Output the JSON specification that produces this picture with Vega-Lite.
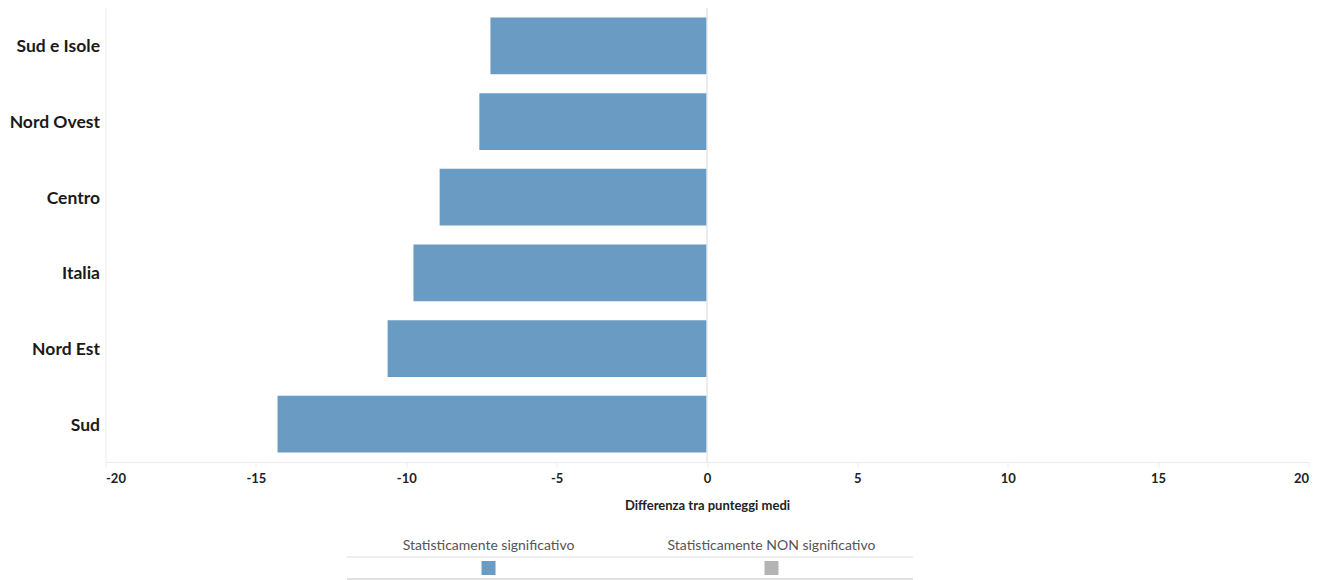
{
  "$schema": "https://vega.github.io/schema/vega-lite/v6.json",
  "background": "white",
  "padding": {"left": 8.5, "top": 7, "right": 5, "bottom": 0},
  "config": {"view": {"stroke": null}, "font": "Lato"},
  "datasets": {
    "main": [
      {"regione": "Sud e Isole", "differenza": -7.20, "significativita": "Statisticamente significativo"},
      {"regione": "Nord Ovest", "differenza": -7.57, "significativita": "Statisticamente significativo"},
      {"regione": "Centro", "differenza": -8.89, "significativita": "Statisticamente significativo"},
      {"regione": "Italia", "differenza": -9.76, "significativita": "Statisticamente significativo"},
      {"regione": "Nord Est", "differenza": -10.62, "significativita": "Statisticamente significativo"},
      {"regione": "Sud", "differenza": -14.28, "significativita": "Statisticamente significativo"}
    ],
    "legenda": [
      {"cat": "Statisticamente significativo"},
      {"cat": "Statisticamente NON significativo"}
    ],
    "riferimento": [{"valore": 0}]
  },
  "bounds": "flush",
  "spacing": 95,
  "vconcat": [
    {
      "width": 1203,
      "height": 454,
      "layer": [
        {
          "data": {"name": "main"},
          "mark": {"type": "bar"},
          "encoding": {
            "y": {
              "field": "regione", "type": "nominal", "sort": null,
              "scale": {"paddingInner": 0.25, "paddingOuter": 0.125},
              "axis": {"title": null, "ticks": false, "domain": true, "domainColor": "#ececec",
                       "labelFontSize": 17.5, "labelFontWeight": "bold", "labelColor": "#1a1a1a",
                       "labelPadding": 6, "labelOffset": 1.5}
            },
            "x": {
              "field": "differenza", "type": "quantitative",
              "scale": {"domain": [-20, 20], "nice": false, "zero": false},
              "axis": {"values": [-20, -15, -10, -5, 0, 5, 10, 15, 20], "labelFlush": true,
                       "labelExpr": "datum.value + ''",
                       "grid": false, "domainColor": "#ececec", "tickColor": "#ececec", "tickSize": 5,
                       "labelFontSize": 13, "labelFontWeight": "bold", "labelColor": "#222222",
                       "labelPadding": 5,
                       "title": "Differenza tra punteggi medi", "titleFontSize": 13,
                       "titleFontWeight": "bold", "titleColor": "#222222", "titlePadding": 14}
            },
            "color": {
              "field": "significativita", "type": "nominal",
              "scale": {"domain": ["Statisticamente significativo", "Statisticamente NON significativo"],
                        "range": ["#6a9bc3", "#b4b4b4"]},
              "legend": null
            }
          }
        },
        {
          "data": {"name": "riferimento"},
          "mark": {"type": "rule", "color": "#e6e6e6", "strokeWidth": 1.5},
          "encoding": {"x": {"field": "valore", "type": "quantitative"}}
        }
      ]
    },
    {
      "width": 1132,
      "height": 22,
      "data": {"name": "legenda"},
      "layer": [
        {
          "mark": {"type": "rule", "color": "#dcdcdc", "strokeWidth": 1},
          "encoding": {
            "x": {"field": "cat", "type": "nominal", "sort": null, "bandPosition": 0},
            "x2": {"field": "cat", "bandPosition": 1},
            "y": {"datum": 1, "type": "quantitative", "scale": {"domain": [0, 1]}, "axis": null}
          }
        },
        {
          "mark": {"type": "rule", "color": "#d6d6d6", "strokeWidth": 1.5},
          "encoding": {
            "x": {"field": "cat", "type": "nominal", "sort": null, "bandPosition": 0},
            "x2": {"field": "cat", "bandPosition": 1},
            "y": {"datum": 0, "type": "quantitative"}
          }
        },
        {
          "mark": {"type": "square", "size": 196, "opacity": 1, "filled": true},
          "encoding": {
            "x": {
              "field": "cat", "type": "nominal", "sort": null,
              "scale": {"type": "band", "paddingInner": 0, "paddingOuter": 1, "align": 0.4267},
              "axis": {"orient": "top", "title": null, "domain": false, "ticks": false, "labelAngle": 0,
                       "labelAlign": "center", "labelBaseline": "bottom",
                       "labelFontSize": 14, "labelColor": "#555555", "labelPadding": 5,
                       "labelLimit": 400}
            },
            "color": {
              "field": "cat", "type": "nominal",
              "scale": {"domain": ["Statisticamente significativo", "Statisticamente NON significativo"],
                        "range": ["#6a9bc3", "#b4b4b4"]},
              "legend": null
            }
          }
        }
      ]
    }
  ]
}
